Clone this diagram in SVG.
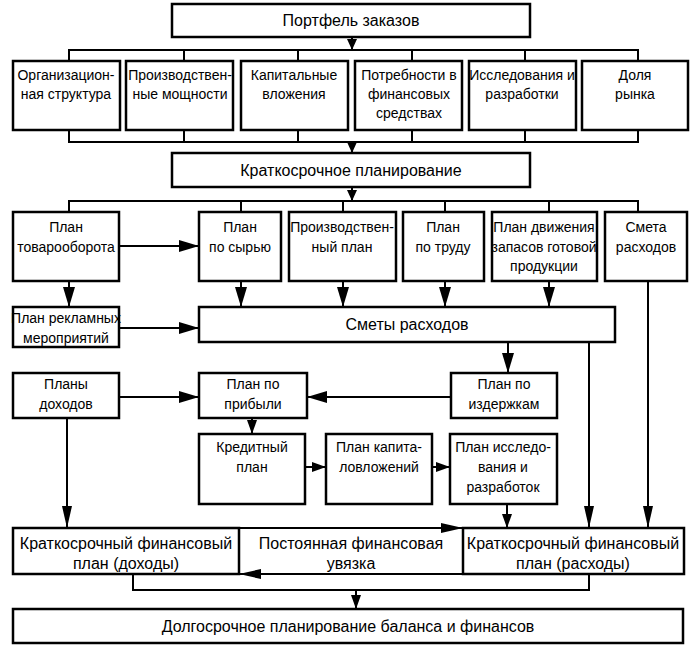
<svg xmlns="http://www.w3.org/2000/svg" width="700" height="650" viewBox="0 0 700 650">
<style>
  .b { fill: #fff; stroke: #000; stroke-width: 2.5; }
  .c { fill: none; stroke: #000; stroke-width: 2; }
  .t { font-family: "Liberation Sans", Arial, sans-serif; font-size: 14px; text-anchor: middle; fill: #000; }
  .T { font-family: "Liberation Sans", Arial, sans-serif; font-size: 16px; text-anchor: middle; fill: #000; }
</style>
<defs>
  <marker id="a" markerUnits="userSpaceOnUse" markerWidth="20" markerHeight="12" refX="20" refY="6" orient="auto"><path d="M0,0 L20,6 L0,12 z" fill="#000"/></marker>
  <marker id="m" markerUnits="userSpaceOnUse" markerWidth="14" markerHeight="10" refX="14" refY="5" orient="auto"><path d="M0,0 L14,5 L0,10 z" fill="#000"/></marker>
  <marker id="s" markerUnits="userSpaceOnUse" markerWidth="11" markerHeight="10" refX="11" refY="5" orient="auto"><path d="M0,0 L11,5 L0,10 z" fill="#000"/></marker>
  <marker id="l" markerUnits="userSpaceOnUse" markerWidth="22" markerHeight="10" refX="22" refY="5" orient="auto"><path d="M0,0 L22,5 L0,10 z" fill="#000"/></marker>
</defs>
<rect width="700" height="650" fill="#fff"/>

<g id="connectors">
  <path class="c" d="M352,37 V50" marker-end="url(#s)"/>
  <path class="c" d="M69,61 V50 H638 V61 M184,50 V61 M298,50 V61 M412,50 V61 M525,50 V61"/>
  <path class="c" d="M69,130 V142 H638 V130 M184,142 V130 M298,142 V130 M412,142 V130 M525,142 V130"/>
  <path class="c" d="M352,142 V153" marker-end="url(#s)"/>
  <path class="c" d="M352,187 V201" marker-end="url(#s)"/>
  <path class="c" d="M69,212 V201 H638 V212 M241,201 V212 M343,201 V212 M445,201 V212 M549,201 V212"/>
  <path class="c" d="M119,246 H199" marker-end="url(#a)"/>
  <path class="c" d="M69,281 V307" marker-end="url(#a)"/>
  <path class="c" d="M241,281 V307" marker-end="url(#a)"/>
  <path class="c" d="M343,281 V307" marker-end="url(#a)"/>
  <path class="c" d="M445,281 V307" marker-end="url(#a)"/>
  <path class="c" d="M549,281 V307" marker-end="url(#a)"/>
  <path class="c" d="M119,328 H199" marker-end="url(#a)"/>
  <path class="c" d="M508,342 V373" marker-end="url(#a)"/>
  <path class="c" d="M589,342 V528" marker-end="url(#l)"/>
  <path class="c" d="M648,281 V528" marker-end="url(#l)"/>
  <path class="c" d="M119,397 H199" marker-end="url(#a)"/>
  <path class="c" d="M451,397 H307" marker-end="url(#a)"/>
  <path class="c" d="M67,418 V528" marker-end="url(#l)"/>
  <path class="c" d="M252,418 V434" marker-end="url(#m)"/>
  <path class="c" d="M305,467 H326" marker-end="url(#m)"/>
  <path class="c" d="M432,467 H450" marker-end="url(#m)"/>
  <path class="c" d="M507,504 V528" marker-end="url(#m)"/>
  <path class="c" d="M239,528 H463" marker-end="url(#l)"/>
  <path class="c" d="M463,574 H239" marker-end="url(#l)"/>
  <path class="c" d="M133,574 V590 H589 V573"/>
  <path class="c" d="M356,590 V609" marker-end="url(#m)"/>
</g>

<g id="portfel"><rect class="b" x="172" y="4" width="358" height="33"/><text class="T" x="351" y="26">Портфель заказов</text></g>

<g id="org"><rect class="b" x="13" y="61" width="107" height="69"/><text class="t" x="66" y="80">Организацион-</text><text class="t" x="66" y="99">ная структура</text></g>
<g id="moshch"><rect class="b" x="126" y="61" width="107" height="69"/><text class="t" x="180" y="80">Производствен-</text><text class="t" x="180" y="99">ные мощности</text></g>
<g id="kapvl"><rect class="b" x="241" y="61" width="107" height="69"/><text class="t" x="294" y="80">Капитальные</text><text class="t" x="294" y="99">вложения</text></g>
<g id="potreb"><rect class="b" x="355" y="61" width="107" height="69"/><text class="t" x="409" y="80">Потребности в</text><text class="t" x="409" y="99">финансовых</text><text class="t" x="409" y="118">средствах</text></g>
<g id="issl"><rect class="b" x="469" y="61" width="107" height="69"/><text class="t" x="522" y="80">Исследования и</text><text class="t" x="522" y="99">разработки</text></g>
<g id="dolya"><rect class="b" x="582" y="61" width="106" height="69"/><text class="t" x="635" y="80">Доля</text><text class="t" x="635" y="99">рынка</text></g>

<g id="kratk"><rect class="b" x="172" y="153" width="358" height="34"/><text class="T" x="351" y="176">Краткосрочное планирование</text></g>

<g id="tovar"><rect class="b" x="13" y="212" width="106" height="69"/><text class="t" x="66" y="232">План</text><text class="t" x="66" y="252">товарооборота</text></g>
<g id="syr"><rect class="b" x="199" y="212" width="82" height="69"/><text class="t" x="240" y="232">План</text><text class="t" x="240" y="252">по сырью</text></g>
<g id="proizv"><rect class="b" x="289" y="212" width="107" height="69"/><text class="t" x="342" y="232">Производствен-</text><text class="t" x="342" y="252">ный план</text></g>
<g id="trud"><rect class="b" x="403" y="212" width="81" height="69"/><text class="t" x="443" y="232">План</text><text class="t" x="443" y="252">по труду</text></g>
<g id="zapas"><rect class="b" x="492" y="212" width="105" height="69"/><text class="t" x="544" y="232">План движения</text><text class="t" x="544" y="252">запасов готовой</text><text class="t" x="544" y="271">продукции</text></g>
<g id="smeta"><rect class="b" x="605" y="212" width="82" height="69"/><text class="t" x="646" y="232">Смета</text><text class="t" x="646" y="252">расходов</text></g>

<g id="reklam"><rect class="b" x="13" y="307" width="106" height="40"/><text class="t" x="66" y="323">План рекламных</text><text class="t" x="66" y="343">мероприятий</text></g>
<g id="smety"><rect class="b" x="199" y="307" width="416" height="35"/><text class="T" x="407" y="330">Сметы расходов</text></g>

<g id="dohod"><rect class="b" x="13" y="373" width="106" height="45"/><text class="t" x="66" y="389">Планы</text><text class="t" x="66" y="409">доходов</text></g>
<g id="pribyl"><rect class="b" x="199" y="373" width="108" height="45"/><text class="t" x="253" y="389">План по</text><text class="t" x="253" y="409">прибыли</text></g>
<g id="izderzh"><rect class="b" x="451" y="373" width="106" height="45"/><text class="t" x="504" y="389">План по</text><text class="t" x="504" y="409">издержкам</text></g>

<g id="kredit"><rect class="b" x="199" y="434" width="106" height="70"/><text class="t" x="252" y="452">Кредитный</text><text class="t" x="252" y="472">план</text></g>
<g id="kapital"><rect class="b" x="326" y="434" width="106" height="70"/><text class="t" x="379" y="452">План капита-</text><text class="t" x="379" y="472">ловложений</text></g>
<g id="issled"><rect class="b" x="450" y="434" width="107" height="70"/><text class="t" x="503" y="452">План исследо-</text><text class="t" x="503" y="472">вания и</text><text class="t" x="503" y="492">разработок</text></g>

<g id="fin-dohod"><rect class="b" x="13" y="528" width="226" height="46"/><text class="T" x="126" y="549">Краткосрочный финансовый</text><text class="T" x="126" y="569">план (доходы)</text></g>
<g id="uvyazka"><text class="T" x="351" y="549">Постоянная финансовая</text><text class="T" x="351" y="569">увязка</text></g>
<g id="fin-rashod"><rect class="b" x="463" y="528" width="221" height="46"/><text class="T" x="573" y="549">Краткосрочный финансовый</text><text class="T" x="573" y="569">план (расходы)</text></g>

<g id="dolgosr"><rect class="b" x="13" y="609" width="670" height="34"/><text class="T" x="348" y="632">Долгосрочное планирование баланса и финансов</text></g>
</svg>
